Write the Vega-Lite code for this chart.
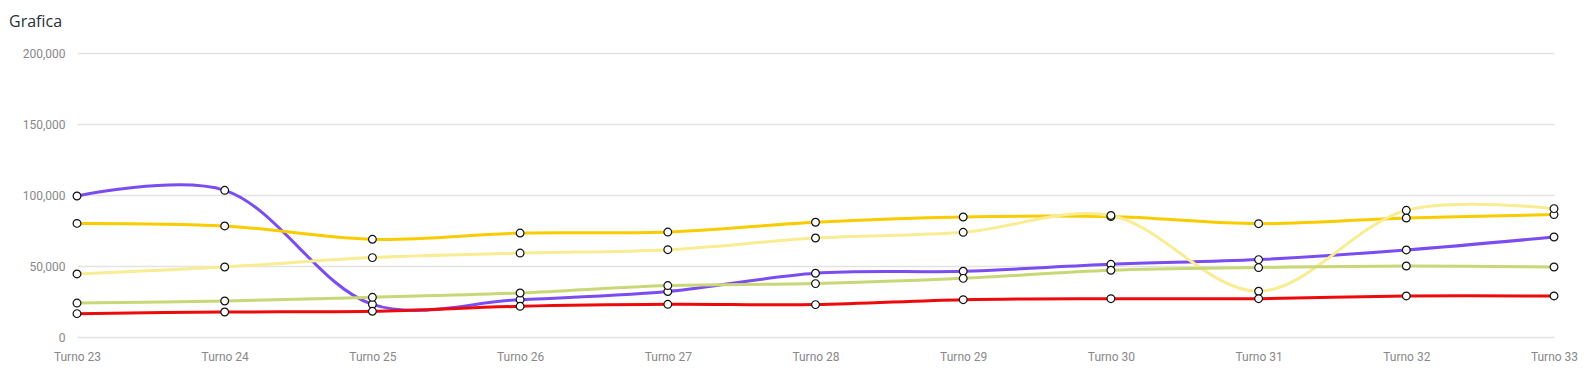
{
  "$schema": "https://vega.github.io/schema/vega-lite/v6.json",
  "width": 1477,
  "height": 284,
  "autosize": {"type": "none"},
  "padding": {"left": 77, "top": 53, "right": 38, "bottom": 43},
  "background": "white",
  "title": {
    "text": "Grafica",
    "anchor": "start",
    "frame": "group",
    "font": "Open Sans",
    "fontSize": 16,
    "fontWeight": "normal",
    "color": "#263238",
    "baseline": "alphabetic",
    "dx": -68,
    "offset": 4
  },
  "config": {
    "view": {"stroke": null},
    "axis": {"labelFont": "Roboto", "labelFontSize": 12, "labelColor": "#888888", "title": null}
  },
  "data": {
    "values": [
      {"turno": "Turno 23", "serie": "Viola", "valore": 99300},
      {"turno": "Turno 24", "serie": "Viola", "valore": 103300},
      {"turno": "Turno 25", "serie": "Viola", "valore": 23000},
      {"turno": "Turno 26", "serie": "Viola", "valore": 26300},
      {"turno": "Turno 27", "serie": "Viola", "valore": 32000},
      {"turno": "Turno 28", "serie": "Viola", "valore": 44900},
      {"turno": "Turno 29", "serie": "Viola", "valore": 46300},
      {"turno": "Turno 30", "serie": "Viola", "valore": 51200},
      {"turno": "Turno 31", "serie": "Viola", "valore": 54500},
      {"turno": "Turno 32", "serie": "Viola", "valore": 61300},
      {"turno": "Turno 33", "serie": "Viola", "valore": 70400},

      {"turno": "Turno 23", "serie": "Oro", "valore": 80000},
      {"turno": "Turno 24", "serie": "Oro", "valore": 78200},
      {"turno": "Turno 25", "serie": "Oro", "valore": 68800},
      {"turno": "Turno 26", "serie": "Oro", "valore": 73200},
      {"turno": "Turno 27", "serie": "Oro", "valore": 73900},
      {"turno": "Turno 28", "serie": "Oro", "valore": 80800},
      {"turno": "Turno 29", "serie": "Oro", "valore": 84500},
      {"turno": "Turno 30", "serie": "Oro", "valore": 84800},
      {"turno": "Turno 31", "serie": "Oro", "valore": 79800},
      {"turno": "Turno 32", "serie": "Oro", "valore": 83800},
      {"turno": "Turno 33", "serie": "Oro", "valore": 86200},

      {"turno": "Turno 23", "serie": "Giallo", "valore": 44400},
      {"turno": "Turno 24", "serie": "Giallo", "valore": 49300},
      {"turno": "Turno 25", "serie": "Giallo", "valore": 55900},
      {"turno": "Turno 26", "serie": "Giallo", "valore": 59100},
      {"turno": "Turno 27", "serie": "Giallo", "valore": 61500},
      {"turno": "Turno 28", "serie": "Giallo", "valore": 69700},
      {"turno": "Turno 29", "serie": "Giallo", "valore": 73700},
      {"turno": "Turno 30", "serie": "Giallo", "valore": 85600},
      {"turno": "Turno 31", "serie": "Giallo", "valore": 32200},
      {"turno": "Turno 32", "serie": "Giallo", "valore": 89200},
      {"turno": "Turno 33", "serie": "Giallo", "valore": 90400},

      {"turno": "Turno 23", "serie": "Verde", "valore": 23900},
      {"turno": "Turno 24", "serie": "Verde", "valore": 25350},
      {"turno": "Turno 25", "serie": "Verde", "valore": 27950},
      {"turno": "Turno 26", "serie": "Verde", "valore": 31000},
      {"turno": "Turno 27", "serie": "Verde", "valore": 36200},
      {"turno": "Turno 28", "serie": "Verde", "valore": 37600},
      {"turno": "Turno 29", "serie": "Verde", "valore": 41300},
      {"turno": "Turno 30", "serie": "Verde", "valore": 47000},
      {"turno": "Turno 31", "serie": "Verde", "valore": 48900},
      {"turno": "Turno 32", "serie": "Verde", "valore": 50000},
      {"turno": "Turno 33", "serie": "Verde", "valore": 49300},

      {"turno": "Turno 23", "serie": "Rosso", "valore": 16450},
      {"turno": "Turno 24", "serie": "Rosso", "valore": 17600},
      {"turno": "Turno 25", "serie": "Rosso", "valore": 18100},
      {"turno": "Turno 26", "serie": "Rosso", "valore": 21600},
      {"turno": "Turno 27", "serie": "Rosso", "valore": 23000},
      {"turno": "Turno 28", "serie": "Rosso", "valore": 22800},
      {"turno": "Turno 29", "serie": "Rosso", "valore": 26300},
      {"turno": "Turno 30", "serie": "Rosso", "valore": 27000},
      {"turno": "Turno 31", "serie": "Rosso", "valore": 27000},
      {"turno": "Turno 32", "serie": "Rosso", "valore": 28900},
      {"turno": "Turno 33", "serie": "Rosso", "valore": 28900}
    ]
  },
  "encoding": {
    "x": {
      "field": "turno",
      "type": "ordinal",
      "scale": {"type": "point", "padding": 0},
      "axis": {"labelAngle": 0, "ticks": false, "domain": false, "grid": false, "labelPadding": 14}
    },
    "y": {
      "field": "valore",
      "type": "quantitative",
      "scale": {"domain": [0, 200000], "nice": false},
      "axis": {
        "values": [0, 50000, 100000, 150000, 200000],
        "format": ",.0f",
        "ticks": false,
        "domain": false,
        "grid": true,
        "gridColor": "#e3e3e3",
        "gridWidth": 1.5,
        "labelPadding": 12
      }
    }
  },
  "layer": [
    {
      "mark": {"type": "line", "interpolate": "catmull-rom", "strokeWidth": 3},
      "encoding": {
        "color": {
          "field": "serie",
          "type": "nominal",
          "scale": {
            "domain": ["Giallo", "Verde", "Rosso", "Oro", "Viola"],
            "range": ["#f9ec92", "#c9d777", "#ee0a0a", "#f9cc00", "#7b4cf0"]
          },
          "legend": null
        },
        "order": {"field": "serie"}
      }
    },
    {
      "mark": {"type": "point", "filled": false, "fill": "white", "stroke": "#111111", "strokeWidth": 1.2, "size": 60, "opacity": 1},
      "encoding": {"detail": {"field": "serie"}}
    }
  ]
}
